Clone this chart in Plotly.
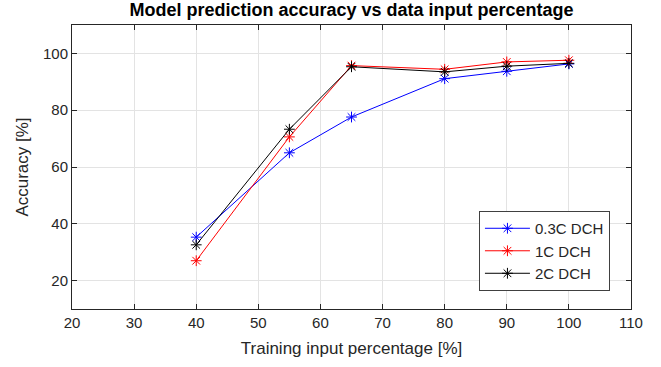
import plotly.graph_objects as go

# Training input percentage (x) and model accuracy per discharge rate
train_pct = [40, 55, 65, 80, 90, 100]
acc_03c = [35.3, 65.0, 77.6, 91.1, 93.7, 96.3]
acc_1c = [27.0, 70.6, 95.7, 94.4, 97.0, 97.6]
acc_2c = [32.6, 73.3, 95.3, 93.5, 95.5, 96.5]

series = [
    ("0.3C DCH", acc_03c, "#0000ff"),
    ("1C DCH", acc_1c, "#ff0000"),
    ("2C DCH", acc_2c, "#000000"),
]

fig = go.Figure()
for name, vals, color in series:
    fig.add_trace(go.Scatter(
        x=train_pct, y=vals, name=name, mode="lines+markers",
        line=dict(color=color, width=1),
        marker=dict(symbol="asterisk-open", size=9, color=color,
                    line=dict(color=color, width=1)),
    ))

axis_common = dict(
    showline=True, linecolor="#262626", linewidth=1, mirror="ticks",
    ticks="inside", ticklen=5, tickcolor="#262626",
    showgrid=True, gridcolor="#e3e3e3", gridwidth=1, zeroline=False,
    tickfont=dict(family="Liberation Sans, Arial", size=15, color="#262626"),
    title_font=dict(family="Liberation Sans, Arial", size=17, color="#262626"),
)

fig.update_xaxes(range=[20, 110], dtick=10, tick0=0,
                 title_text="Training input percentage [%]", title_standoff=12,
                 **axis_common)
fig.update_yaxes(range=[10, 110], dtick=20, tick0=0,
                 title_text="Accuracy [%]", title_standoff=10,
                 **axis_common)

fig.update_layout(
    width=661, height=367,
    margin=dict(l=72, r=30, t=25, b=55),
    paper_bgcolor="white", plot_bgcolor="white",
    title=dict(text="<b>Model prediction accuracy vs data input percentage</b>",
               x=(72 + 631) / 2 / 661, xanchor="center", y=0.99, yanchor="top",
               font=dict(family="Liberation Sans, Arial", size=18, color="black")),
    legend=dict(x=0.728, y=0.345, xanchor="left", yanchor="top",
                bgcolor="white", bordercolor="#404040", borderwidth=1,
                font=dict(family="Liberation Sans, Arial", size=15, color="#262626"),
                tracegroupgap=0, itemwidth=45),
    showlegend=True,
)

fig.write_html("out.html")
